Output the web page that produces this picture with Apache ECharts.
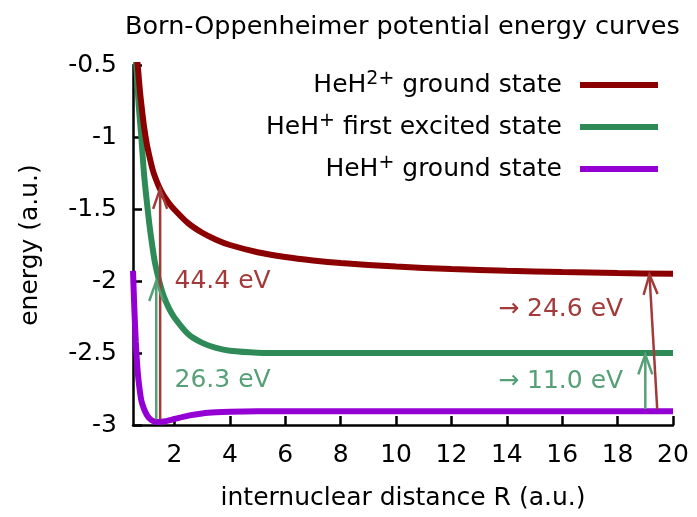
<!DOCTYPE html>
<html>
<head>
<meta charset="utf-8">
<script src="https://cdn.jsdelivr.net/npm/echarts@6/dist/echarts.min.js"></script>
<style>html,body{margin:0;padding:0;background:#fff}#c{width:697px;height:517px}</style>
</head>
<body>
<div id="c"></div>
<script>
// ---- data ----
const redR = [0.6, 0.67, 0.75, 0.8, 0.9, 1.0, 1.1, 1.2, 1.3, 1.46, 1.6, 1.8, 2.0, 2.5, 3.0, 3.5, 4, 5, 6, 7, 8, 10, 12, 14, 16, 18, 20];
const redE = [-0.35, -0.5, -0.68, -0.77, -0.93, -1.05, -1.14, -1.22, -1.28, -1.355, -1.405, -1.46, -1.505, -1.6, -1.665, -1.713, -1.75, -1.8, -1.833, -1.857, -1.875, -1.9, -1.917, -1.929, -1.938, -1.945, -1.95];

const greenR = [0.55, 0.6, 0.7, 0.8, 0.9, 1.0, 1.1, 1.2, 1.3, 1.46, 1.6, 1.8, 2.0, 2.5, 3.0, 3.5, 4, 5, 6, 8, 10, 12, 14, 16, 18, 20];
const greenE = [-0.27, -0.44, -0.76, -1.0, -1.26, -1.45, -1.62, -1.76, -1.88, -2.01, -2.1, -2.19, -2.255, -2.37, -2.43, -2.465, -2.485, -2.498, -2.5, -2.5, -2.5, -2.5, -2.5, -2.5, -2.5, -2.5];

const violetR = [0.5, 0.55, 0.6, 0.65, 0.7, 0.8, 0.9, 1.0, 1.1, 1.2, 1.3, 1.46, 1.6, 1.8, 2.0, 2.5, 3.0, 3.5, 4, 5, 6, 8, 10, 12, 14, 16, 18, 20];
const violetE = [-1.93, -2.2, -2.42, -2.58, -2.69, -2.83, -2.89, -2.93, -2.955, -2.97, -2.977, -2.979, -2.976, -2.968, -2.958, -2.935, -2.92, -2.912, -2.908, -2.905, -2.904, -2.904, -2.904, -2.904, -2.904, -2.904, -2.904, -2.904];

const seriesNames = ['HeH2+ ground state', 'HeH+ first excited state', 'HeH+ ground state'];
const legendLabels = ['HeH{sup|2+} ground state', 'HeH{sup|+} first excited state', 'HeH{sup|+} ground state'];

const xTicks = [2, 4, 6, 8, 10, 12, 14, 16, 18, 20];

// transition arrows: start (R,E) -> end (R,E)
const arrowR0 = [1.48, 1.34, 19.0, 19.43];
const arrowE0 = [-2.96, -2.96, -2.89, -2.89];
const arrowR1 = [1.48, 1.34, 19.0, 19.15];
const arrowE1 = [-1.36, -2.0, -2.51, -1.955];
const arrowKind = [0, 1, 1, 0];

const noteText = ['44.4 eV', '26.3 eV', '→ 24.6 eV', '→ 11.0 eV'];
const noteR = [2.0, 2.0, 18.2, 18.2];
const noteE = [-2.0, -2.69, -2.2, -2.7];
const noteKind = [0, 1, 0, 1];
const noteAlign = ['left', 'left', 'right', 'right'];

// ---- styles ----
const FONT = 'DejaVu Sans';
const curveColors = ['#8b0000', '#2e8b57', '#9400d3'];
const noteColors = ['#a33a3a', '#56a078'];

const zip = (a, b) => a.map((v, i) => [v, b[i]]);

const chart = echarts.init(document.getElementById('c'), null, {renderer: 'canvas'});

const arrowData = arrowR0.map((r, i) => [r, arrowE0[i], arrowR1[i], arrowE1[i], arrowKind[i]]);
const noteData = noteR.map((r, i) => [r, noteE[i], i]);

const lineSeries = (idx, R, E, z) => ({
  name: seriesNames[idx], type: 'line', data: zip(R, E), showSymbol: false, symbol: 'none', clip: true,
  smooth: 0.3,
  lineStyle: {color: curveColors[idx], width: 6}, itemStyle: {color: curveColors[idx]}, z: z
});

chart.setOption({
  animation: false,
  backgroundColor: '#fff',
  textStyle: {fontFamily: FONT},
  title: {
    text: 'Born-Oppenheimer potential energy curves',
    left: 120, top: 9,
    textStyle: {fontFamily: FONT, fontSize: 25.5, fontWeight: 'normal', color: '#000'}
  },
  grid: {left: 133, right: 24, top: 65, bottom: 92, outerBoundsMode: 'none'},
  legend: {
    orient: 'vertical',
    align: 'right',
    right: 39, top: 70,
    padding: 0,
    itemWidth: 78, itemHeight: 6, itemGap: 12,
    icon: 'rect',
    selectedMode: false,
    data: seriesNames,
    formatter: function (name) { return legendLabels[seriesNames.indexOf(name)]; },
    textStyle: {
      fontFamily: FONT, fontSize: 25, color: '#000', lineHeight: 30,
      padding: [0, 13, 0, 0],
      rich: {sup: {fontFamily: FONT, fontSize: 19, lineHeight: 15, verticalAlign: 'top', color: '#000'}}
    }
  },
  xAxis: {
    type: 'value', min: 0.5, max: 20,
    name: 'internuclear distance R (a.u.)',
    nameLocation: 'middle', nameGap: 61,
    nameTextStyle: {fontFamily: FONT, fontSize: 25, color: '#000'},
    axisLine: {show: true, onZero: false, lineStyle: {color: '#000', width: 2.5}},
    axisTick: {show: true, inside: true, length: 9, customValues: xTicks, lineStyle: {color: '#000', width: 2.5}},
    axisLabel: {customValues: xTicks, margin: 18, fontFamily: FONT, fontSize: 25, color: '#000'},
    splitLine: {show: false}
  },
  yAxis: {
    type: 'value', min: -3, max: -0.5, interval: 0.5,
    name: 'energy (a.u.)',
    nameLocation: 'middle', nameGap: 90,
    nameTextStyle: {fontFamily: FONT, fontSize: 25, color: '#000'},
    axisLine: {show: true, onZero: false, lineStyle: {color: '#000', width: 2.5}},
    axisTick: {show: true, inside: true, length: 9, lineStyle: {color: '#000', width: 2.5}},
    axisLabel: {margin: 16, fontFamily: FONT, fontSize: 25, color: '#000'},
    splitLine: {show: false}
  },
  series: [
    lineSeries(2, violetR, violetE, 2),
    lineSeries(1, greenR, greenE, 3),
    lineSeries(0, redR, redE, 4),
    {
      type: 'custom', z: 5, silent: true,
      data: arrowData,
      renderItem: function (params, api) {
        const p0 = api.coord([api.value(0), api.value(1)]);
        const p1 = api.coord([api.value(2), api.value(3)]);
        const col = noteColors[api.value(4)];
        const dx = p1[0] - p0[0], dy = p1[1] - p0[1];
        const len = Math.sqrt(dx * dx + dy * dy);
        const ux = dx / len, uy = dy / len;
        const hl = 20, hw = 7;
        const a1 = [p1[0] - ux * hl - uy * hw, p1[1] - uy * hl + ux * hw];
        const a2 = [p1[0] - ux * hl + uy * hw, p1[1] - uy * hl - ux * hw];
        const st = {stroke: col, lineWidth: 2.5, fill: null};
        return {type: 'group', children: [
          {type: 'line', shape: {x1: p0[0], y1: p0[1], x2: p1[0], y2: p1[1]}, style: st},
          {type: 'polyline', shape: {points: [a1, p1, a2]}, style: st}
        ]};
      }
    },
    {
      type: 'custom', z: 6, silent: true,
      data: noteData,
      renderItem: function (params, api) {
        const p = api.coord([api.value(0), api.value(1)]);
        const i = api.value(2);
        return {type: 'text', x: p[0], y: p[1], style: {
          text: noteText[i], fill: noteColors[noteKind[i]],
          font: '25px "' + FONT + '"', align: noteAlign[i], verticalAlign: 'middle'
        }};
      }
    }
  ]
});
</script>
</body>
</html>
